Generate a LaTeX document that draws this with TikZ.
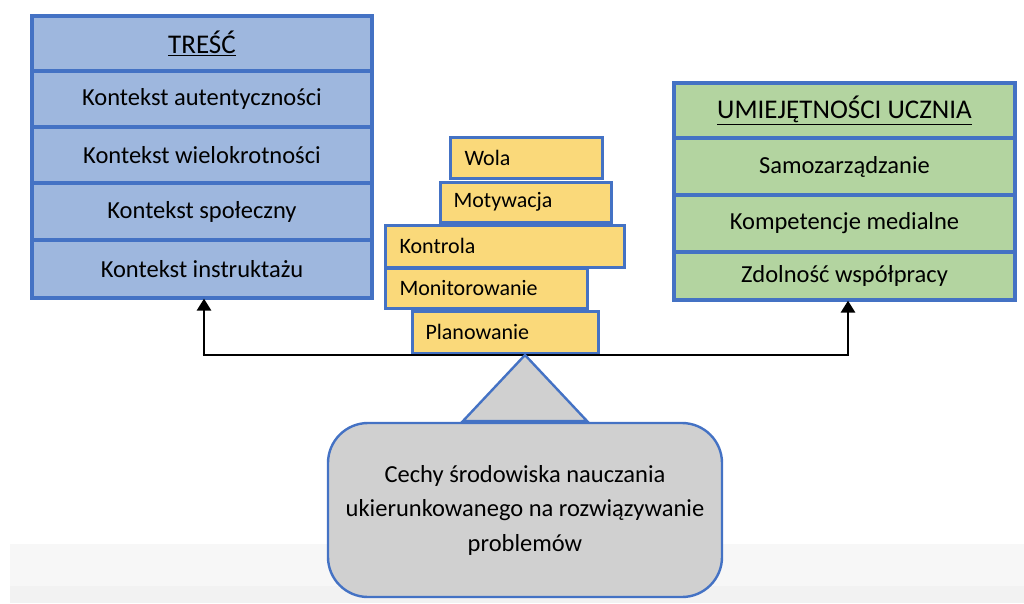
\documentclass[tikz,border=0pt]{standalone}
\usepackage{fontspec}
\setmainfont{Carlito}
\usetikzlibrary{arrows.meta}
\definecolor{edgeblue}{HTML}{4472C4}
\definecolor{fillblue}{HTML}{9EB7DE}
\definecolor{fillgreen}{HTML}{B3D4A0}
\definecolor{fillyellow}{HTML}{FAD97A}
\definecolor{fillgray}{HTML}{D0D0D0}
\tikzset{
  rowbox/.style={draw=edgeblue, line width=3.2pt, minimum width=#1, inner sep=0pt, font=\fontsize{24.5}{28}\selectfont},
  contentrow/.style={rowbox=340pt, fill=fillblue, minimum height=56pt},
  skillrow/.style={rowbox=341pt, fill=fillgreen, minimum height=57pt},
  headrow/.style={font=\fontsize{27}{30}\selectfont},
  levelbox/.style={draw=edgeblue, line width=2.6pt, fill=fillyellow, inner sep=0pt, anchor=north west},
  levellabel/.style={anchor=west, font=\fontsize{22}{26}\selectfont},
  linkline/.style={line width=2.8pt, black},
  linkarrow/.style={line width=2.8pt, black, -{Triangle[length=12pt,width=14pt]}}
}
\begin{document}
\begin{tikzpicture}[x=1pt,y=-1pt]
\useasboundingbox (0,0) rectangle (1024,603);
% light band along the bottom edge
\fill[fill=black!3] (10,544) rectangle (1024,586);
\fill[fill=black!5] (10,586) rectangle (1024,603);

% content column
\node[contentrow, headrow, minimum height=55pt] (t0) at (202,43.5) {\underline{TREŚĆ}};
\node[contentrow] (t1) at (202,99) {Kontekst autentyczności};
\node[contentrow] (t2) at (202,155) {Kontekst wielokrotności};
\node[contentrow, minimum height=57pt] (t3) at (202,211.5) {Kontekst społeczny};
\node[contentrow, minimum height=58pt] (t4) at (202,269) {Kontekst instruktażu};

% learner skills column
\node[skillrow, headrow, minimum height=55pt] (u0) at (844.5,110.5) {\underline{UMIEJĘTNOŚCI UCZNIA}};
\node[skillrow] (u1) at (844.5,166.5) {Samozarządzanie};
\node[skillrow] (u2) at (844.5,223.5) {Kompetencje medialne};
\node[skillrow, minimum height=48pt] (u3) at (844.5,276) {Zdolność współpracy};

% stacked self-regulation levels
\node[levelbox, minimum width=152pt, minimum height=41pt] (wola) at (449,136) {};
\node[levellabel] at ([xshift=12pt]wola.west) {Wola};
\node[levelbox, minimum width=171pt, minimum height=40pt] (motyw) at (439,181) {};
\node[levellabel] at ([xshift=11pt]motyw.west) {Motywacja};
\node[levelbox, minimum width=239pt, minimum height=42pt] (kontr) at (384,224) {};
\node[levellabel] at ([xshift=12pt]kontr.west) {Kontrola};
\node[levelbox, minimum width=202pt, minimum height=40pt] (monit) at (384,267) {};
\node[levellabel] at ([xshift=12pt]monit.west) {Monitorowanie};
\node[levelbox, minimum width=186pt, minimum height=42pt] (plan) at (411,310) {};
\node[levellabel] at ([xshift=11pt]plan.west) {Planowanie};

% balance beam with arrows up to both columns
\coordinate (beamL) at (204,355);
\coordinate (beamR) at (848,355);
\coordinate (apex) at (525,355);
\draw[linkline] ([xshift=-1.4pt]beamL) -- ([xshift=1.4pt]beamR);
\draw[linkarrow] (beamL) -- ([yshift=1pt]beamL |- t4.south);
\draw[linkarrow] (beamR) -- ([yshift=1pt]beamR |- u3.south);

% fulcrum and callout
\draw[draw=edgeblue, line width=2.4pt, fill=fillgray, line join=miter]
  (apex) -- (463,421) -- (587,421) -- cycle;
\node[draw=edgeblue, line width=2.4pt, fill=fillgray, rounded corners=40pt,
      minimum width=394pt, minimum height=174pt, align=center,
      font=\fontsize{24.5}{34.5}\selectfont] (cechy) at (525,510)
  {Cechy środowiska nauczania\\ukierunkowanego na rozwiązywanie\\problemów};
\end{tikzpicture}
\end{document}
